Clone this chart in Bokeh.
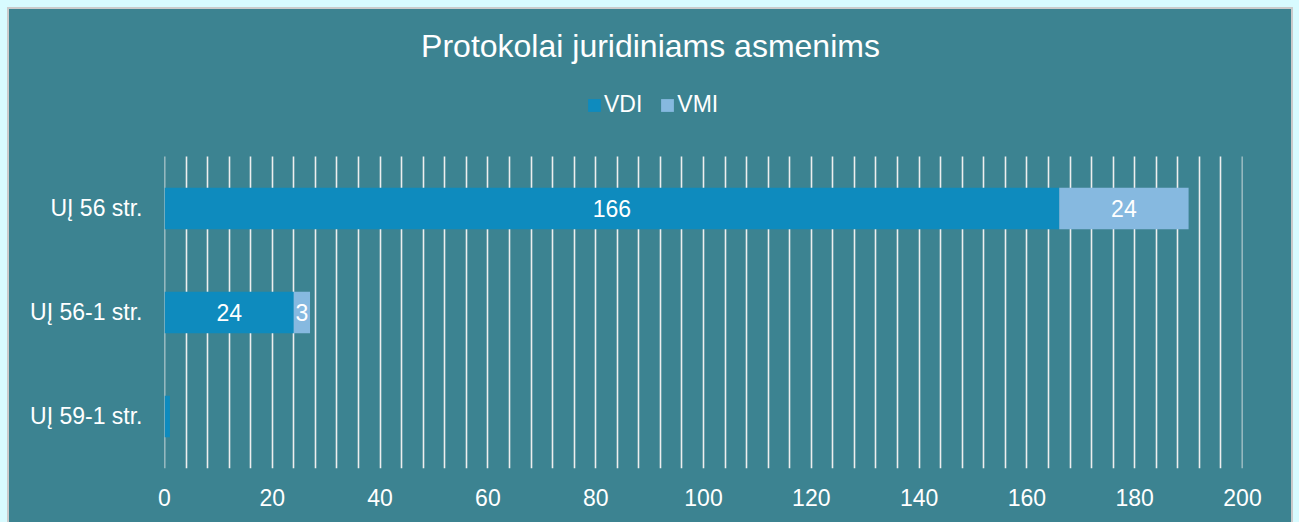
from bokeh.plotting import figure
from bokeh.models import (ColumnDataSource, Range1d, SingleIntervalTicker, FixedTicker,
                          Legend, LegendItem, LabelSet, Label)
from bokeh.core.properties import value
from bokeh.embed import file_html
from bokeh.resources import INLINE

categories = ["UĮ 56 str.", "UĮ 56-1 str.", "UĮ 59-1 str."]
vdi = [166, 24, 1]
vmi = [24, 3, 0]
series = ["VDI", "VMI"]
colors = ["#0e8bbe", "#86b9e0"]
title_text = "Protokolai juridiniams asmenims"

BG = "#3c8391"
FONT = "Liberation Sans"

# categorical positions: first category on top
ypos = [len(categories) - 1 - i for i in range(len(categories))]
src = ColumnDataSource(dict(y=ypos, cat=categories, VDI=vdi, VMI=vmi))

p = figure(width=1282, height=513, output_backend="svg", toolbar_location=None, title=None,
           y_range=Range1d(-0.5, 3.913), x_range=Range1d(-0.001, 200.001),
           min_border_left=155, min_border_right=49, min_border_bottom=54, min_border_top=0,
           background_fill_color=BG, border_fill_color=BG, outline_line_color=None)
p.margin = (9, 0, 0, 9)

rs = p.hbar_stack(series, y="y", height=0.4, color=colors, line_color=None, source=src)

# data labels
lab_x, lab_y, lab_t = [], [], []
for yy, a, b in zip(ypos, vdi, vmi):
    if a >= 2:
        lab_x.append(a / 2); lab_y.append(yy); lab_t.append(str(a))
    if b >= 2:
        lab_x.append(a + b / 2); lab_y.append(yy); lab_t.append(str(b))
lsrc = ColumnDataSource(dict(x=lab_x, y=lab_y, t=lab_t))
p.add_layout(LabelSet(x="x", y="y", text="t", source=lsrc, text_align="center",
                      text_baseline="middle", text_color="white", text_font=value(FONT),
                      text_font_size="23px"))

# axes
p.xaxis.ticker = SingleIntervalTicker(interval=20, num_minor_ticks=0)
p.yaxis.ticker = FixedTicker(ticks=ypos)
p.yaxis.major_label_overrides = {yy: c for yy, c in zip(ypos, categories)}
for ax in (p.xaxis[0], p.yaxis[0]):
    ax.axis_line_color = None
    ax.major_tick_line_color = None
    ax.minor_tick_line_color = None
    ax.major_label_text_color = "white"
    ax.major_label_text_font = FONT
    ax.major_label_text_font_size = "23px"
p.xaxis.major_label_standoff = 14
p.yaxis.major_label_standoff = 16

p.ygrid.grid_line_color = None
p.xgrid.ticker = SingleIntervalTicker(interval=4, num_minor_ticks=0)
p.xgrid.grid_line_color = "#eeeeee"
p.xgrid.grid_line_width = 1.6
p.xgrid.cross_bounds = (-0.5, len(categories) - 0.5)

# title (inside the frame area, above the grid)
p.add_layout(Label(x=486, y=423, x_units="screen", y_units="screen", text=title_text,
                   text_align="center", text_baseline="middle", text_color="white",
                   text_font=FONT, text_font_size="32px"))

legend = Legend(items=[LegendItem(label=s, renderers=[r]) for s, r in zip(series, rs)],
                orientation="horizontal", location=(422, 350),
                glyph_width=16, glyph_height=16, label_standoff=2, spacing=17,
                label_text_color="white", label_text_font=FONT, label_text_font_size="23px",
                background_fill_alpha=0, border_line_color=None, padding=0, margin=0)
p.add_layout(legend)

p.styles = {"outline": "2px solid #cbcbcb", "background-color": BG}

html = file_html(p, INLINE)
html = html.replace("<body>", '<body style="background-color:#d8fbff;">')
open("out.html", "w").write(html)
